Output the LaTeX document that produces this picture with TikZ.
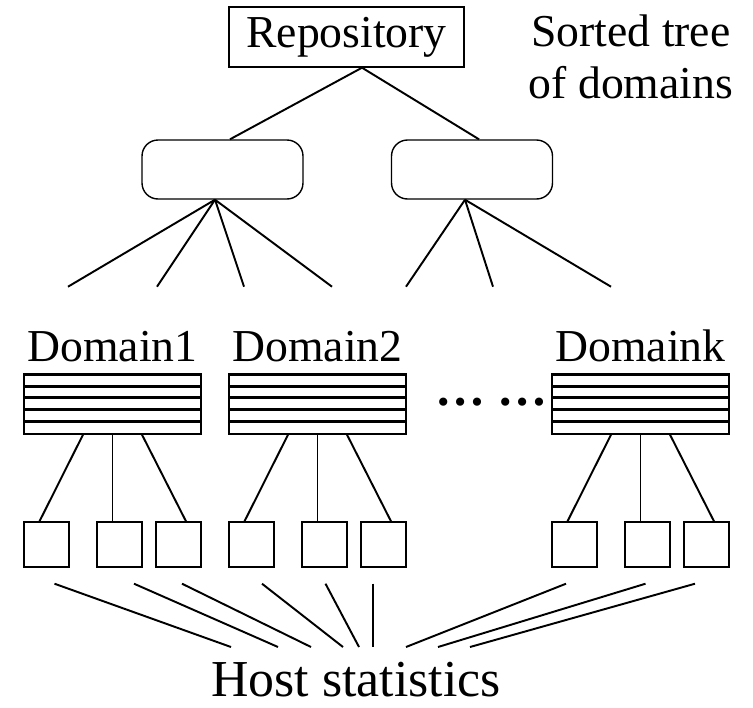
\documentclass[tikz,border=0pt]{standalone}
\usepackage{fontspec}
\setmainfont{Liberation Serif}
\usetikzlibrary{calc}

\begin{document}
\begin{tikzpicture}[
        x=0.02cm, y=-0.02cm,
        line width=1.1pt,
        every node/.style={font=\fontsize{26}{29.6}\selectfont},
        repobox/.style={draw, line width=0.8pt, minimum width=4.7cm, minimum height=1.2cm, inner sep=0pt},
        treenode/.style={draw, line width=0.8pt, rounded corners=0.32cm, minimum width=3.22cm, minimum height=1.18cm},
        domtab/.style={draw, line width=0.8pt, minimum width=3.54cm, minimum height=1.18cm, inner sep=0pt},
        rowline/.style={line width=1.7pt},
        hostbox/.style={draw, line width=0.8pt, minimum size=0.9cm, inner sep=0pt},
        dlabel/.style={inner sep=0pt, anchor=base}
    ]
    \useasboundingbox (0,0) rectangle (753,707);

    \node[repobox] (repo) at (346.5,37) {Repository};
    \node[align=center, inner sep=0pt] (caption) at (631,57) {Sorted tree\\of domains};

    \node[treenode] (left) at (222.5,169.5) {};
    \node[treenode] (right) at (472,169.5) {};
    \draw ($(repo.south)+(15.5,0)$) -- ($(left.north)+(7.5,0)$);
    \draw ($(repo.south)+(15.5,0)$) -- ($(right.north)+(7,0)$);

    \coordinate (lfan) at ($(left.south)+(-7.5,0)$);
    \coordinate (rfan) at ($(right.south)+(-7,0)$);
    \foreach \dx in {-147,-58,29,117}
        \draw (lfan) -- ++(\dx,87);
    \foreach \dx in {-59,28,146}
        \draw (rfan) -- ++(\dx,87);

    \node[domtab] (t1) at (112.5,404.5) {};
    \node[domtab] (t2) at (317.5,404.5) {};
    \node[domtab] (tk) at (640.5,404.5) {};
    \node[dlabel] (l1) at ($(t1.north)+(0,-13)$) {Domain1};
    \node[dlabel] (l2) at ($(t2.north)+(0,-13)$) {Domain2};
    \node[dlabel] (lk) at ($(tk.north)+(0,-13)$) {Domaink};
    \node[dlabel, font=\fontsize{28.5}{32}\selectfont\bfseries] (dots) at (491.5,405) {…\ …};

    \foreach \t in {t1,t2,tk}
        \foreach \k in {0,...,4}
            \draw[rowline] ($(\t.north west)+(0,\k*11.8)$) -- ($(\t.north east)+(0,\k*11.8)$);

    \foreach \t/\a/\b/\c in {t1/h11/h12/h13, t2/h21/h22/h23, tk/hk1/hk2/hk3} {
        \node[hostbox] (\a) at ($(\t)+(-66,140)$) {};
        \node[hostbox] (\b) at ($(\t)+(7,140)$) {};
        \node[hostbox] (\c) at ($(\t)+(66,140)$) {};
        \draw ($(\t.south)+(-29.5,0)$) -- ($(\a.north)+(-7,0)$);
        \draw (\t.south) -- ($(\b.north)+(-7,0)$);
        \draw ($(\t.south)+(29.5,0)$) -- ($(\c.north)+(7.5,0)$);
    }

    \node[dlabel, font=\fontsize{29.5}{34}\selectfont] (stats) at (356,696) {Host statistics};

    \foreach \h/\dx/\ex in {h11/8/-125, h12/14.5/-78, h13/3.5/-45, h21/10.5/-13, h22/1/3, h23/-10.5/17, hk1/-8.5/50, hk2/-2/82, hk3/-11.5/114}
        \draw ($(\h.south)+(\dx,16)$) -- ($(stats.base)+(\ex,-49)$);
\end{tikzpicture}
\end{document}
